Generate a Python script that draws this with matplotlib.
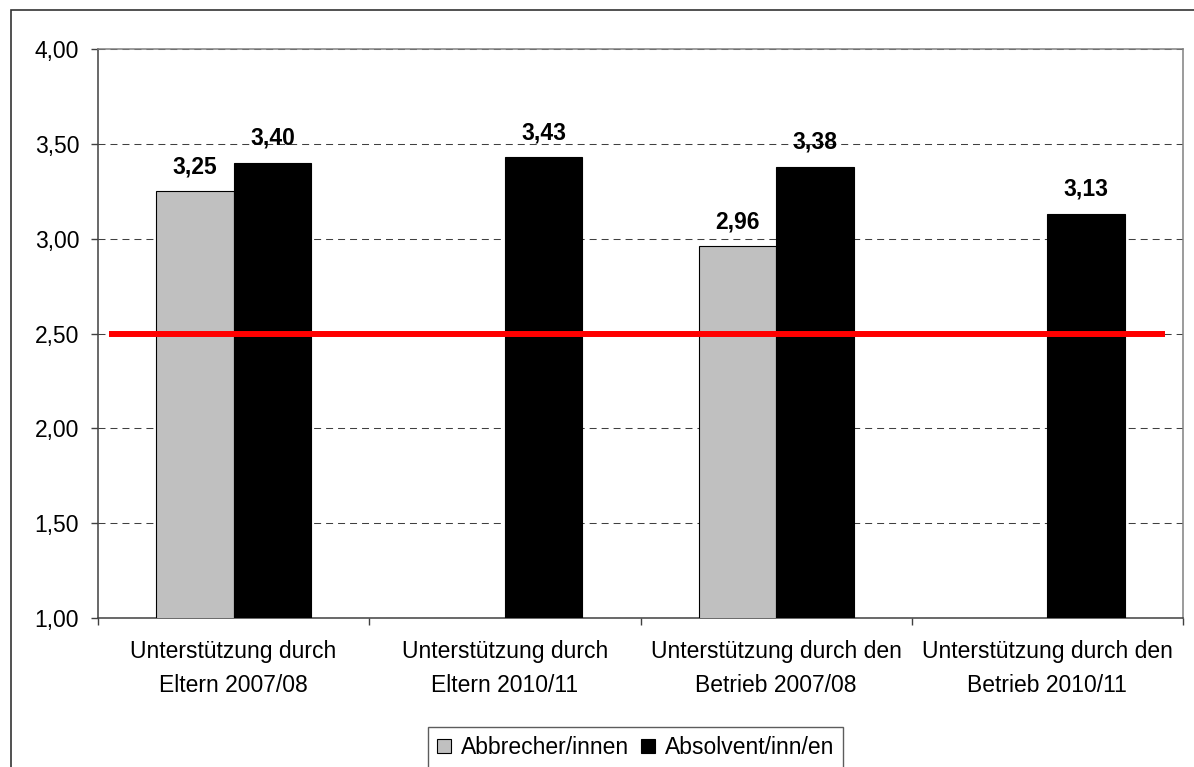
import numpy as np
import matplotlib
matplotlib.use("Agg")
import matplotlib.pyplot as plt
from matplotlib.patches import Patch, Rectangle
from matplotlib.ticker import FixedLocator, FuncFormatter

plt.rcParams["font.family"] = ["Liberation Sans", "DejaVu Sans"]

# Data
categories = [
    "Unterstützung durch\nEltern 2007/08",
    "Unterstützung durch\nEltern 2010/11",
    "Unterstützung durch den\nBetrieb 2007/08",
    "Unterstützung durch den\nBetrieb 2010/11",
]
series_names = ["Abbrecher/innen", "Absolvent/inn/en"]
abbrecher = [3.25, np.nan, 2.96, np.nan]
absolventen = [3.40, 3.43, 3.38, 3.13]
threshold = 2.50
y_ticks = [1.00, 1.50, 2.00, 2.50, 3.00, 3.50, 4.00]

W, H = 1194, 767
fig = plt.figure(figsize=(W / 100, H / 100), dpi=100)
fig.patch.set_facecolor("white")
ax = fig.add_axes([98 / W, 1 - 618 / H, (1183 - 98) / W, (618 - 49) / H])

fs = 16.5
x = np.arange(len(categories))
bw = 1 / 3.5

gray = "#C0C0C0"
ax.bar(x - bw / 2, abbrecher, bw, bottom=0, color=gray, edgecolor="black",
       linewidth=0.8, zorder=3)
ax.bar(x + bw / 2, absolventen, bw, bottom=0, color="black", edgecolor="black",
       linewidth=0.8, zorder=3)

def fmt(v):
    return f"{v:.2f}".replace(".", ",")

for xs, vals in ((x - bw / 2, abbrecher), (x + bw / 2, absolventen)):
    for xi, v in zip(xs, vals):
        if np.isnan(v):
            continue
        ax.annotate(fmt(v), (xi, v), xytext=(0, 13), textcoords="offset points",
                    ha="center", va="baseline", fontsize=fs, fontweight="bold",
                    zorder=5)

# reference line
ax.plot([-0.46, 3.434], [threshold, threshold], color="#FF0000", linewidth=4.3,
        solid_capstyle="butt", zorder=4)

ax.set_xlim(-0.5, 3.5)
ax.set_ylim(y_ticks[0], y_ticks[-1])
ax.set_yticks(y_ticks)
ax.yaxis.set_major_formatter(FuncFormatter(lambda v, p: fmt(v)))
ax.tick_params(axis="y", direction="out", length=5, width=1.0, color="#404040",
               labelsize=fs, pad=8.5)

ax.set_xticks(x)
ax.set_xticklabels(categories, fontsize=fs, linespacing=1.6)
ax.xaxis.set_minor_locator(FixedLocator(np.arange(-0.5, 4.0, 1.0)))
ax.tick_params(axis="x", which="major", length=0, pad=16)
ax.tick_params(axis="x", which="minor", direction="out", length=5, width=1.0,
               color="#404040")

ax.yaxis.grid(True, color="#404040", linewidth=0.75, linestyle=(0, (6.7, 4.8)),
              zorder=1)
ax.set_axisbelow(True)

for s in ("top", "right"):
    ax.spines[s].set_color("#808080")
    ax.spines[s].set_linewidth(1.1)
for s in ("left", "bottom"):
    ax.spines[s].set_color("#404040")
    ax.spines[s].set_linewidth(1.1)

handles = [Patch(facecolor=gray, edgecolor="black", linewidth=0.8),
           Patch(facecolor="black", edgecolor="black", linewidth=0.8)]
leg = fig.legend(handles, series_names, loc="upper left",
                 bbox_to_anchor=(428 / W, 1 - 727 / H), ncol=2, fontsize=fs,
                 frameon=True, fancybox=False, shadow=False, borderaxespad=0,
                 handlelength=0.6, handleheight=0.6, handletextpad=0.45,
                 columnspacing=0.5, borderpad=0.4)
leg.get_frame().set_edgecolor("#333333")
leg.get_frame().set_linewidth(1.0)

# outer chart border
fig.patches.append(Rectangle((11 / W, -0.05), 1.2, 1 - 10 / H + 0.05,
                             transform=fig.transFigure, fill=False,
                             edgecolor="#333333", linewidth=1.2))

fig.savefig("out.png", dpi=100)
